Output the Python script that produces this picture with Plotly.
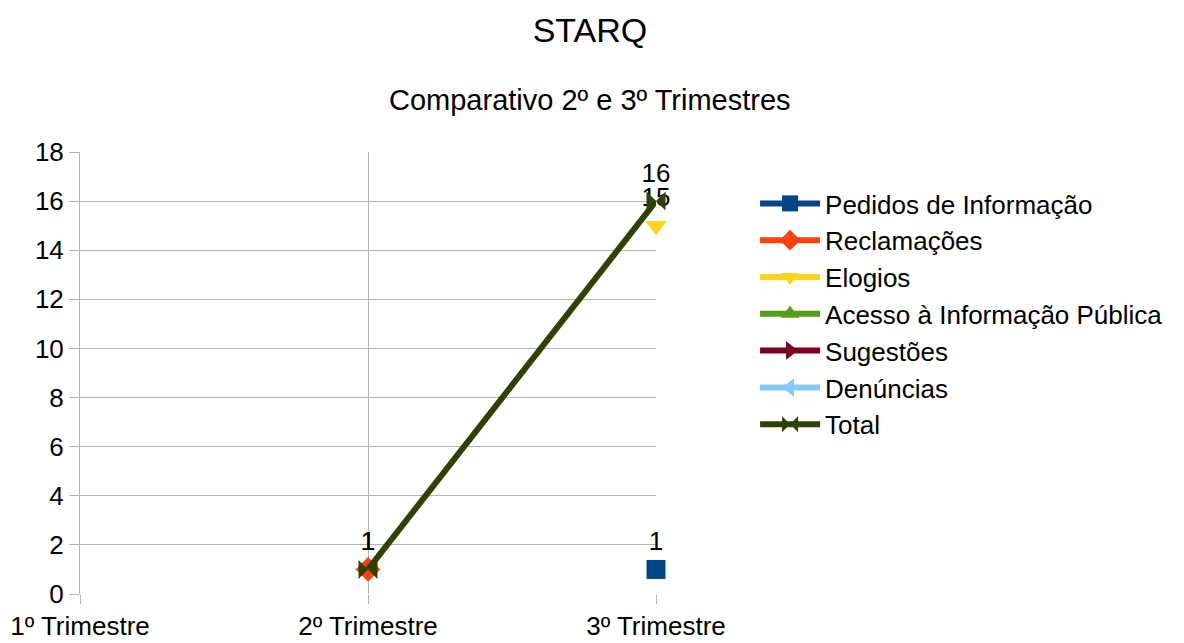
import plotly.graph_objects as go

categories = ["1º Trimestre", "2º Trimestre", "3º Trimestre"]
series_names = ["Pedidos de Informação", "Reclamações", "Elogios",
                "Acesso à Informação Pública", "Sugestões", "Denúncias", "Total"]
pedidos = [None, None, 1]
reclamacoes = [None, 1, None]
elogios = [None, None, 15]
acesso = [None, None, None]
sugestoes = [None, None, None]
denuncias = [None, None, None]
total = [None, 1, 16]

colors = ["#004586", "#ff420e", "#ffd320", "#579d1c", "#7e0021", "#83caff", "#314004"]
symbols = ["square", "diamond", "triangle-down", "triangle-up", "triangle-right", "triangle-left", "bowtie"]
values = [pedidos, reclamacoes, elogios, acesso, sugestoes, denuncias, total]

fig = go.Figure()
for i, (name, vals) in enumerate(zip(series_names, values)):
    fig.add_trace(go.Scatter(
        x=categories, y=vals, name=name,
        mode="lines+markers+text",
        text=[("" if v is None else str(v)) for v in vals],
        textposition="top center",
        textfont=dict(size=26, color="black"),
        line=dict(color=colors[i], width=6),
        marker=dict(symbol=symbols[i], size=19, color=colors[i]),
        legendgroup=f"g{i}",
        cliponaxis=False,
    ))

# page body has an 8px margin, so the figure is slightly smaller than the window
fig.update_layout(
    width=1176, height=635,
    paper_bgcolor="white", plot_bgcolor="white",
    font=dict(family="Liberation Sans, Arial, sans-serif", size=26, color="black"),
    margin=dict(l=72, r=528, t=144, b=49),
    title=dict(text="STARQ", x=582 / 1176, xref="container", xanchor="center",
               y=1 - 22 / 635, yref="container", yanchor="middle", font=dict(size=34)),
    annotations=[dict(text="Comparativo 2º e 3º Trimestres", xref="paper", yref="paper",
                      x=(590 - 80) / 576, y=(594 - 100) / 442, xanchor="center",
                      yanchor="middle", showarrow=False, font=dict(size=29))],
    legend=dict(x=1.172, y=(594 - 180) / 442, xanchor="left", yanchor="top",
                font=dict(size=26), tracegroupgap=0, traceorder="grouped",
                itemwidth=60),
    showlegend=True,
)
fig.update_xaxes(type="category", range=[0, 2], showgrid=True, gridcolor="#b3b3b3",
                 ticks="outside", ticklen=9, tickcolor="#b3b3b3", zeroline=False,
                 showline=False, automargin=False)
fig.update_yaxes(range=[0, 18], dtick=2, showgrid=True, gridcolor="#b3b3b3",
                 ticks="outside", ticklen=10, tickcolor="#b3b3b3", zeroline=False,
                 showline=True, linecolor="#b3b3b3", automargin=False)

fig.write_html("out.html")
